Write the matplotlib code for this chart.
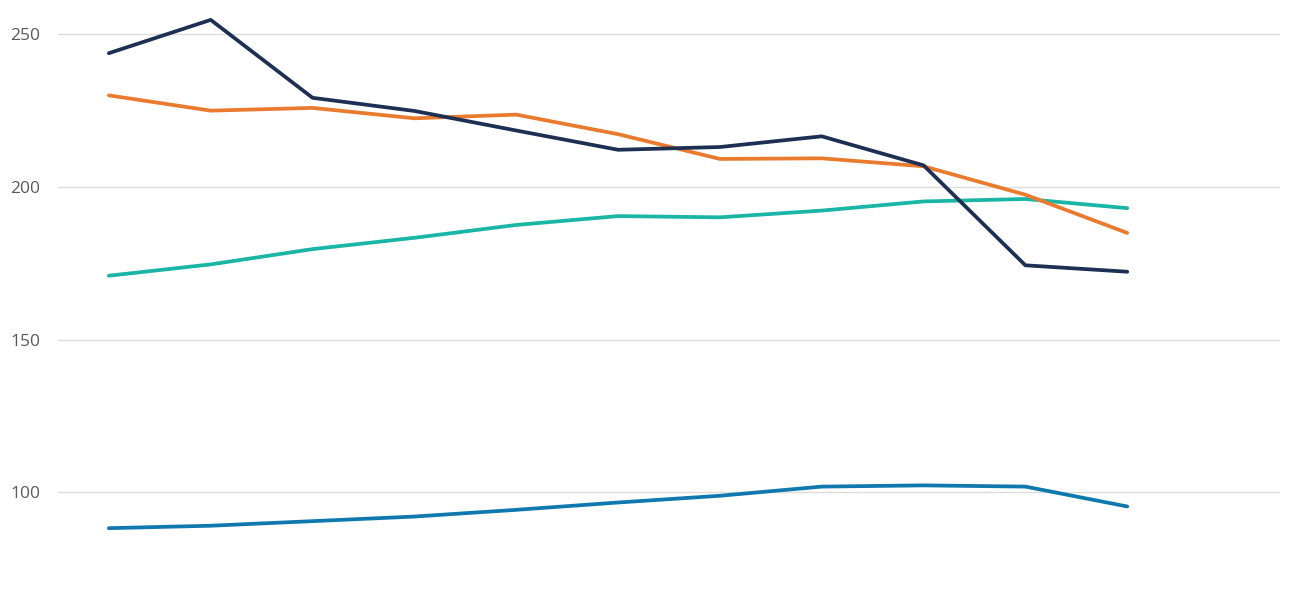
import numpy as np
import matplotlib.pyplot as plt

# twelve category slots, the last one is empty
periods = list(range(12))

navy = [243.7, 254.6, 229.1, 224.8, 218.4, 212.1, 213.0, 216.5, 207.0, 174.3, 172.2]
orange = [229.9, 224.9, 225.8, 222.4, 223.6, 217.2, 209.1, 209.3, 206.7, 197.4, 184.9]
teal = [170.9, 174.6, 179.6, 183.3, 187.5, 190.4, 190.0, 192.2, 195.2, 196.0, 193.0]
blue = [88.3, 89.1, 90.6, 92.1, 94.3, 96.7, 98.9, 101.9, 102.3, 101.9, 95.4]

yticks = [100, 150, 200, 250]

fig = plt.figure(figsize=(13, 6), dpi=100)
ax = fig.add_axes([0.0446, 0.0, 0.9400, 1.0])

series = [
    (teal, '#19B5A5'),
    (blue, '#0F79AF'),
    (orange, '#E97A2E'),
    (navy, '#1D3054'),
]
for vals, col in series:
    ax.plot(periods[:len(vals)], vals, color=col, linewidth=2.7, solid_capstyle='round')

ax.set_xlim(-0.5, len(periods) - 0.5)
ax.set_ylim(64.8, 261.1)
ax.set_yticks(yticks)
ax.set_yticklabels([str(t) for t in yticks], fontsize=12.5, color='#595959',
                   family=['Open Sans', 'DejaVu Sans'])
ax.set_xticks([])
ax.tick_params(axis='y', length=0, pad=13)
ax.grid(axis='y', color='#dcdcdc', linewidth=1)
ax.set_axisbelow(True)
for s in ax.spines.values():
    s.set_visible(False)

plt.savefig('out.png', dpi=100)
